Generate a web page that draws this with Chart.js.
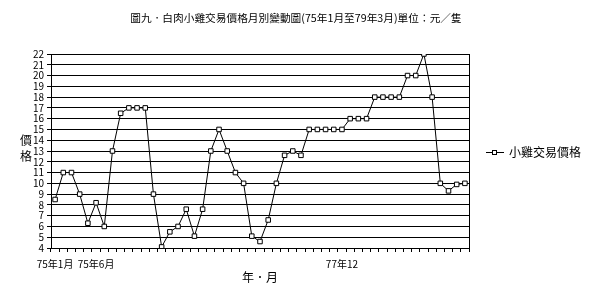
<!DOCTYPE html>
<html>
<head>
<meta charset="utf-8">
<script src="https://cdn.jsdelivr.net/npm/chart.js"></script>
<style>
  body { margin: 0; background: #fff; }
</style>
</head>
<body>
<canvas id="priceChart" width="589" height="305"></canvas>
<script>
// months 75年1月 .. 79年3月
const categories = [];
for (let y = 75; y <= 79; y++) {
  for (let m = 1; m <= 12; m++) {
    if (y === 79 && m > 3) break;
    categories.push(y + '年' + m + '月');
  }
}

const tickIndex = [0, 5, 35];
const tickLabels = ['75年1月', '75年6月', '77年12'];

const titleText = '圖九．白肉小雞交易價格月別變動圖(75年1月至79年3月)單位：元／隻';
const seriesName = '小雞交易價格';
const prices = [
  8.5, 11, 11, 9, 6.3, 8.2, 6, 13, 16.5, 17, 17, 17,
  9, 4.1, 5.5, 6, 7.6, 5.1, 7.6, 13, 15, 13, 11, 10,
  5.1, 4.6, 6.6, 10, 12.6, 13, 12.6, 15, 15, 15, 15, 15,
  16, 16, 16, 18, 18, 18, 18, 20, 20, 22, 18, 10,
  9.3, 9.9, 10
];

const FONT = '"Noto Sans CJK TC", "Noto Sans CJK SC", sans-serif';

const extras = {
  id: 'extras',
  afterDraw(chart) {
    const ctx = chart.ctx;
    const a = chart.chartArea;
    ctx.save();
    // right border
    ctx.strokeStyle = '#000';
    ctx.lineWidth = 1;
    ctx.beginPath();
    ctx.moveTo(Math.round(a.right) + 0.5, a.top);
    ctx.lineTo(Math.round(a.right) + 0.5, a.bottom);
    ctx.stroke();

    ctx.fillStyle = '#000';
    ctx.textBaseline = 'middle';
    ctx.textAlign = 'center';

    // title
    ctx.font = '10.7px ' + FONT;
    ctx.fillText(titleText, 296, 18);

    // y axis title, stacked
    ctx.font = '12px ' + FONT;
    ctx.fillText('價', 26, 140);
    ctx.fillText('格', 26, 156);

    // legend
    const ly = 152.5;
    ctx.beginPath();
    ctx.moveTo(486, ly);
    ctx.lineTo(504, ly);
    ctx.stroke();
    ctx.fillStyle = '#fff';
    ctx.fillRect(492.5, ly - 2, 4, 4);
    ctx.strokeRect(492.5, ly - 2, 4, 4);
    ctx.fillStyle = '#000';
    ctx.textAlign = 'left';
    ctx.fillText(seriesName, 509, ly);
    ctx.restore();
  }
};

const ctx = document.getElementById('priceChart').getContext('2d');
const chart = new Chart(ctx, {
  type: 'line',
  data: {
    labels: categories,
    datasets: [{
      label: seriesName,
      data: prices,
      borderColor: '#000',
      borderWidth: 1,
      backgroundColor: '#fff',
      pointStyle: 'rect',
      pointRadius: 3.2,
      pointBorderWidth: 1,
      pointBackgroundColor: '#fff',
      pointBorderColor: '#000',
      tension: 0
    }]
  },
  options: {
    responsive: false,
    maintainAspectRatio: false,
    animation: false,
    layout: {
      padding: { left: 0, right: 120, top: 54, bottom: 0 }
    },
    plugins: {
      legend: { display: false },
      tooltip: { enabled: false },
      title: { display: false }
    },
    scales: {
      x: {
        offset: true,
        grid: {
          display: true,
          offset: true,
          drawOnChartArea: false,
          drawTicks: true,
          tickLength: 4,
          color: '#000'
        },
        border: { display: true, color: '#000' },
        ticks: {
          autoSkip: false,
          maxRotation: 0,
          minRotation: 0,
          padding: 6,
          color: '#000',
          font: { family: FONT, size: 10 },
          callback: function (v, i) {
            const k = tickIndex.indexOf(i);
            return k >= 0 ? tickLabels[k] : '';
          }
        },
        title: {
          display: true,
          text: '年．月',
          color: '#000',
          font: { family: FONT, size: 12 },
          padding: { top: 0, bottom: 20 }
        },
        afterFit: function (scale) { scale.height = 57; }
      },
      y: {
        min: 4,
        max: 22,
        ticks: {
          stepSize: 1,
          autoSkip: false,
          padding: 3,
          color: '#000',
          font: { family: FONT, size: 10 }
        },
        grid: {
          color: '#000',
          lineWidth: 1,
          tickLength: 4
        },
        border: { display: true, color: '#000' },
        afterFit: function (scale) { scale.width = 51; }
      }
    }
  },
  plugins: [extras]
});
</script>
</body>
</html>
